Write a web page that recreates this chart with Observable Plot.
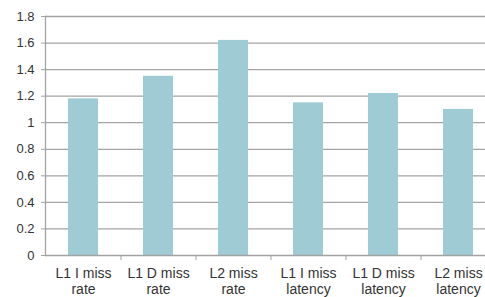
<!DOCTYPE html>
<html><head><meta charset="utf-8">
<script src="https://cdn.jsdelivr.net/npm/d3@7"></script>
<script src="https://cdn.jsdelivr.net/npm/@observablehq/plot@0.6"></script>
<style>html,body{margin:0;padding:0;overflow:hidden;background:#fff} svg{max-width:none !important;display:block}</style>
</head><body><div id="chart"></div>
<script>
const categories = ["L1 I miss rate", "L1 D miss rate", "L2 miss rate", "L1 I miss latency", "L1 D miss latency", "L2 miss latency"];
const values = [1.18, 1.35, 1.62, 1.15, 1.22, 1.10];
const yTicks = [0, 0.2, 0.4, 0.6, 0.8, 1, 1.2, 1.4, 1.6, 1.8];

const data = categories.map((c, i) => ({category: c, value: values[i]}));
const W = 495, ML = 45, MR = 0;
const step = (W - ML - MR) / categories.length;
const gray = "#a3a3a3";
const splitLabel = (s) => { const k = s.lastIndexOf(" "); return s.slice(0, k) + "\n" + s.slice(k + 1); };

const chart = Plot.plot({
  width: W, height: 297,
  marginLeft: ML, marginRight: MR, marginTop: 16, marginBottom: 42,
  style: {fontFamily: "'Liberation Sans', Arial, sans-serif", color: "#333", background: "#fff", maxWidth: "none"},
  x: {domain: categories, paddingInner: 0.6, paddingOuter: 0.3, label: null},
  y: {domain: [0, 1.8], label: null},
  marks: [
    Plot.gridY(yTicks.slice(1), {stroke: gray, strokeOpacity: 1, strokeWidth: 1.3}),
    Plot.barY(data, {x: "category", y: "value", fill: "#9ecbd4"}),
    Plot.ruleY([0], {stroke: gray, strokeWidth: 1.3}),
    Plot.frame({anchor: "left", stroke: gray, strokeWidth: 1.3}),
    Plot.axisY({ticks: yTicks, tickSize: 4, tickPadding: 7, fontSize: 13, stroke: gray, strokeOpacity: 1, tickFormat: d => String(d), label: null}),
    Plot.axisX({ticks: categories.slice(1), tickSize: 5, tickFormat: () => "", dx: -step / 2, stroke: gray, strokeOpacity: 1, label: null}),
    Plot.axisX({tickSize: 0, tickPadding: 12, fontSize: 14, lineHeight: 1.1, tickFormat: splitLabel, label: null})
  ]
});
document.getElementById("chart").appendChild(chart);
</script>
</body></html>
